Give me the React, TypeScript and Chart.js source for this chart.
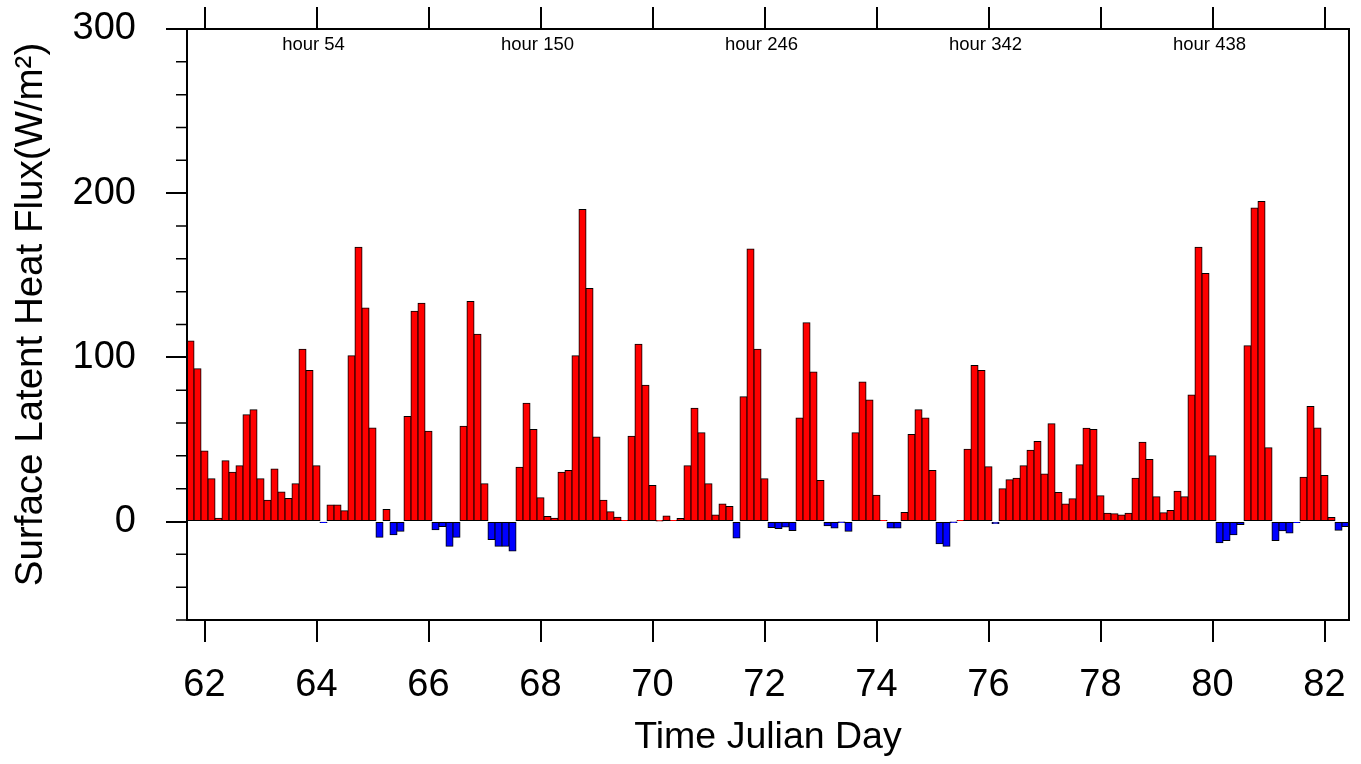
import { useEffect, useRef } from "react";
import { Chart, registerables } from "chart.js";

Chart.register(...registerables);

const FONT = "'Liberation Sans', Arial, Helvetica, sans-serif";

// Time axis: hour 0 is Julian day 61.75, data every 3 hours
const START_DAY = 61.75;
const STEP_DAYS = 0.125;
const X_MIN = 61.6875;
const X_MAX = 82.4375;

// Surface latent heat flux (W/m^2), 3-hourly
const fluxValues = [
  110, 93, 43, 26, 2, 37, 30, 34,
  65, 68, 26, 13, 32, 18, 14, 23,
  105, 92, 34, -0.5, 10, 10, 6.5, 101,
  167, 130, 57, -9.6, 7.3, -8, -6, 64,
  128, 133, 55, -5, -3, -15, -9.6, 58,
  134, 114, 23, -11, -15, -15, -18, 33,
  72, 56, 14.5, 3, 2, 30, 31, 101,
  190, 142, 51.5, 13, 6, 2.6, 0.6, 52,
  108, 83, 22, 0.3, 3.3, 0.6, 1.8, 34,
  69, 54, 23, 4, 10.6, 9.2, -10, 76,
  166, 105, 26, -3.7, -4.3, -3.4, -5.5, 63,
  121, 91, 25, -2.6, -3.9, -0.3, -6, 54,
  85, 74, 16, 0.6, -4, -4, 5.5, 53,
  68, 63, 31, -13.6, -15, -0.3, 0.6, 44,
  95, 92, 33.4, -1.2, 20, 25.5, 26.3, 34,
  43.4, 48.7, 29, 59.5, 17.7, 10.6, 13.8, 34.6,
  56.8, 56, 15.7, 5.1, 4.7, 3.9, 5.1, 26.3,
  48.3, 37.7, 15.1, 5.3, 6.7, 18.5, 15.1, 77,
  167, 151, 40, -13, -11.6, -8, -1.8, 107,
  191, 195, 45, -11.6, -5.7, -7, -0.6, 27,
  70, 57, 28, 2.4, -5.3, -3,
];

const xTickDays = [62, 64, 66, 68, 70, 72, 74, 76, 78, 80, 82];
const yMajorTicks = [0, 100, 200, 300];
const yMinorTicks = [-60, -40, -20, 20, 40, 60, 80, 120, 140, 160, 180, 220, 240, 260, 280];
const hourLabels = [54, 150, 246, 342, 438];
const Y_TITLE = "Surface Latent Heat Flux(W/m²)";

const POS_COLOR = "#ff0000";
const NEG_COLOR = "#0000ff";

const overlayPlugin = {
  id: "overlay",
  afterDraw(chart: any) {
    const { ctx, chartArea } = chart;
    const { left, right, top, bottom } = chartArea;
    const x = chart.scales.x;
    const y = chart.scales.y;
    ctx.save();
    ctx.strokeStyle = "#000";
    ctx.lineWidth = 2;
    ctx.strokeRect(left, top, right - left, bottom - top);
    ctx.lineWidth = 1.5;
    ctx.beginPath();
    yMinorTicks.forEach((v) => {
      const py = y.getPixelForValue(v);
      ctx.moveTo(left, py);
      ctx.lineTo(left - 11, py);
    });
    ctx.stroke();
    ctx.fillStyle = "#000";
    ctx.font = `18.5px ${FONT}`;
    ctx.textAlign = "center";
    ctx.textBaseline = "alphabetic";
    hourLabels.forEach((h) => {
      const px = x.getPixelForValue(START_DAY + h / 24);
      ctx.fillText(`hour ${h}`, px - 3, top + 21);
    });
    // y-axis title
    ctx.save();
    ctx.translate(31, (top + bottom) / 2 - 10);
    ctx.rotate(-Math.PI / 2);
    ctx.font = `38.5px ${FONT}`;
    ctx.textAlign = "center";
    ctx.textBaseline = "middle";
    ctx.fillText(Y_TITLE, 0, 0);
    ctx.restore();
    ctx.restore();
  },
};

export default function App() {
  const canvasRef = useRef<HTMLCanvasElement | null>(null);

  useEffect(() => {
    if (!canvasRef.current) return;
    const points = fluxValues.map((v, i) => ({ x: START_DAY + i * STEP_DAYS, y: v }));
    const setXTicks = (s: any) => {
      s.ticks = xTickDays.map((v) => ({ value: v }));
    };
    const gridOpts = {
      drawOnChartArea: false,
      drawTicks: true,
      tickLength: 22,
      color: "#000",
      lineWidth: 2,
      offset: false,
    };
    const chart = new Chart(canvasRef.current, {
      type: "bar",
      data: {
        datasets: [
          {
            data: points as any,
            backgroundColor: (c: any) => ((c.parsed?.y ?? 0) >= 0 ? POS_COLOR : NEG_COLOR),
            borderColor: "#000",
            borderWidth: 1,
            borderSkipped: false,
            inflateAmount: 0.5,
            barPercentage: 1,
            categoryPercentage: 1,
          } as any,
        ],
      },
      options: {
        responsive: false,
        animation: false,
        devicePixelRatio: 1,
        layout: { padding: { left: 0, right: 12, top: 0, bottom: 0 } },
        plugins: {
          legend: { display: false },
          tooltip: { enabled: false },
        },
        scales: {
          x: {
            type: "linear",
            position: "bottom",
            offset: false,
            min: X_MIN,
            max: X_MAX,
            afterBuildTicks: setXTicks,
            afterFit: (s: any) => {
              s.height = 144;
              s.paddingLeft = 0;
              s.paddingRight = 0;
            },
            grid: gridOpts,
            border: { display: true, color: "#000", width: 2 },
            ticks: {
              color: "#000",
              font: { family: FONT, size: 38 },
              padding: 21,
              maxRotation: 0,
              autoSkip: false,
              callback: (v: any) => String(v),
            },
            title: {
              display: true,
              text: "Time Julian Day",
              color: "#000",
              font: { family: FONT, size: 37.5 },
              padding: { top: 0, bottom: 4 },
            },
          },
          xTop: {
            type: "linear",
            position: "top",
            offset: false,
            min: X_MIN,
            max: X_MAX,
            afterBuildTicks: setXTicks,
            afterFit: (s: any) => {
              s.height = 29;
              s.paddingLeft = 0;
              s.paddingRight = 0;
            },
            grid: gridOpts,
            border: { display: true, color: "#000", width: 2 },
            ticks: { display: false },
          },
          y: {
            type: "linear",
            position: "left",
            min: -60,
            max: 300,
            afterBuildTicks: (s: any) => {
              s.ticks = yMajorTicks.map((v) => ({ value: v }));
            },
            afterFit: (s: any) => {
              s.width = 187;
              s.paddingTop = 0;
              s.paddingBottom = 0;
            },
            grid: { ...gridOpts, tickLength: 21 },
            border: { display: true, color: "#000", width: 2 },
            ticks: {
              color: "#000",
              font: { family: FONT, size: 38 },
              padding: 30,
              callback: (v: any) => String(v),
            },
            title: { display: false },
          },
        },
      } as any,
      plugins: [overlayPlugin],
    });
    return () => chart.destroy();
  }, []);

  return (
    <canvas
      ref={canvasRef}
      width={1361}
      height={764}
      style={{ position: "fixed", left: 0, top: 0, background: "#fff" }}
    />
  );
}
